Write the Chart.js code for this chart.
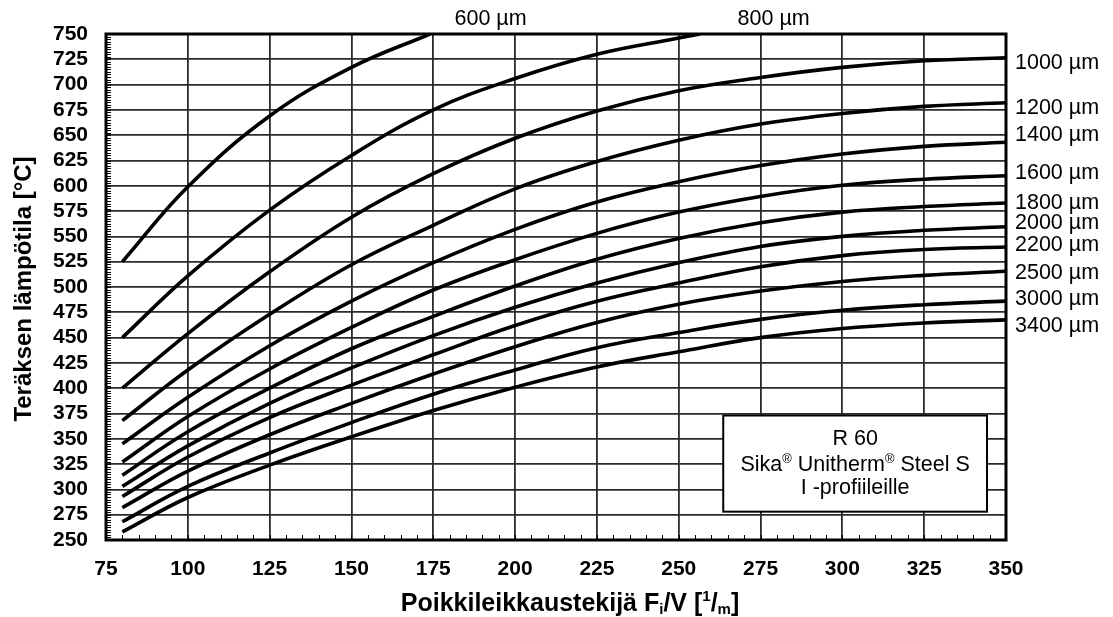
<!DOCTYPE html>
<html><head><meta charset="utf-8">
<script src="https://cdn.jsdelivr.net/npm/chart.js@4/dist/chart.umd.min.js"></script>
<style>html,body{margin:0;padding:0;background:#fff}canvas{display:block}</style>
</head><body>
<canvas id="c" width="1113" height="617"></canvas>
<script>
// ---------- data ----------
const xTickVals = [75,100,125,150,175,200,225,250,275,300,325,350];
const yTickVals = [250,275,300,325,350,375,400,425,450,475,500,525,550,575,600,625,650,675,700,725,750];
const fv = [80,100,125,150,175,200,225,250,275,300,325,350];
const x600 = [80,100,125,150,174];
const t600 = [525,599,669,717,750];
const x800 = [80,100,125,150,175,200,225,250,256.5];
const t800 = [450,511,576,630,675,706,730,746,750];
const t1000 = [400,454,515,569,612,647,674,694,707,717,723.5,726.5];
const t1200 = [368,418,473,522,561,597,624,645,661,671.5,678.5,682];
const t1400 = [345,391,442,486,524,557,584,604,620,631.5,639,643];
const t1600 = [327,372,419,460,497,527,553,574,589.5,600.5,606.5,610];
const t1800 = [314,357,400,439,471,501,527.5,548,563.5,574,579.5,583];
const t2000 = [303,343,385,420,452,480,504,524,540,550,556,559.5];
const t2200 = [293,332,371,403,433,462,486,504,520,531,537,539.5];
const t2500 = [282,318,354,385,414,441,465,483,496,505.5,511.5,515.5];
const t3000 = [268,303,336,366,394,418,440,455,468,477,482.5,486];
const t3400 = [258,292,324,352,378,401,421,436,450,459,464.5,467.5];
const seriesX = [x600,x800,fv,fv,fv,fv,fv,fv,fv,fv,fv,fv];
const seriesT = [t600,t800,t1000,t1200,t1400,t1600,t1800,t2000,t2200,t2500,t3000,t3400];
const thickness = ['600 µm','800 µm','1000 µm','1200 µm','1400 µm','1600 µm','1800 µm','2000 µm','2200 µm','2500 µm','3000 µm','3400 µm'];
// label anchors (in axis units)
const topLabelX = [192.5, 279];
const rightLabelY = [721, 676.5, 650.5, 612.5, 582.5, 563.5, 541.5, 514, 488, 461];
const boxLines = ['R 60', 'Sika® Unitherm® Steel S', 'I -profiileille'];
const boxRange = {x0: 263.6, x1: 344.2, y0: 278, y1: 373};
const yTitle = 'Teräksen lämpötila [°C]';

const FONT = "'Liberation Sans', Arial, Helvetica, sans-serif";

const datasets = seriesT.map((ys, i) => ({
  label: thickness[i],
  data: ys.map((y, j) => ({x: seriesX[i][j], y})),
  borderColor: '#000',
  borderWidth: 3.6,
  pointRadius: 0,
  fill: false,
  tension: 0.4,
  borderCapStyle: 'butt',
  borderJoinStyle: 'round'
}));

function drawRich(ctx, parts, x, y, size, weight, align) {
  const f = (s) => `${weight} ${s}px ${FONT}`;
  let w = 0;
  parts.forEach(p => {
    const s = p.s === 'n' ? size : size * 0.6;
    ctx.font = f(s);
    p.w = ctx.measureText(p.t).width;
    w += p.w;
  });
  let cx = align === 'center' ? x - w / 2 : x;
  ctx.textBaseline = 'middle';
  ctx.textAlign = 'left';
  parts.forEach(p => {
    const s = p.s === 'n' ? size : size * 0.6;
    ctx.font = f(s);
    let dy = 0;
    if (p.s === 'sup') dy = -size * 0.3;
    if (p.s === 'sub') dy = size * 0.25;
    ctx.fillText(p.t, cx, y + dy);
    cx += p.w;
  });
}

const decor = {
  id: 'decor',
  beforeDatasetsDraw(chart) {
    const {ctx, chartArea: a, scales: {x, y}} = chart;
    ctx.save();
    ctx.strokeStyle = '#000';
    ctx.lineWidth = 1;
    for (let v = 250; v <= 750; v += 2.5) {
      const py = Math.round(y.getPixelForValue(v)) + 0.5;
      ctx.beginPath(); ctx.moveTo(a.left, py); ctx.lineTo(a.left + 5, py); ctx.stroke();
    }
    for (let v = 75; v <= 350; v += 5) {
      const px = Math.round(x.getPixelForValue(v)) + 0.5;
      ctx.beginPath(); ctx.moveTo(px, a.bottom); ctx.lineTo(px, a.bottom - 5); ctx.stroke();
    }
    ctx.restore();
  },
  afterDatasetsDraw(chart) {
    const {ctx, chartArea: a, scales: {x, y}} = chart;
    ctx.save();
    ctx.strokeStyle = '#000';
    ctx.lineWidth = 3;
    ctx.strokeRect(a.left, a.top, a.right - a.left, a.bottom - a.top);
    const bx0 = x.getPixelForValue(boxRange.x0), bx1 = x.getPixelForValue(boxRange.x1);
    const by0 = y.getPixelForValue(boxRange.y1), by1 = y.getPixelForValue(boxRange.y0);
    ctx.fillStyle = '#fff';
    ctx.fillRect(bx0, by0, bx1 - bx0, by1 - by0);
    ctx.lineWidth = 2;
    ctx.strokeRect(bx0, by0, bx1 - bx0, by1 - by0);
    ctx.fillStyle = '#000';
    const bcx = (bx0 + bx1) / 2;
    drawRich(ctx, [{t: boxLines[0], s: 'n'}], bcx, by0 + 24, 21.5, 'normal', 'center');
    const l2 = boxLines[1].split('®');
    drawRich(ctx, [{t: l2[0], s: 'n'}, {t: '®', s: 'sup'}, {t: l2[1], s: 'n'}, {t: '®', s: 'sup'}, {t: l2[2], s: 'n'}], bcx, by0 + 50, 21.5, 'normal', 'center');
    drawRich(ctx, [{t: boxLines[2], s: 'n'}], bcx, by0 + 73, 21.5, 'normal', 'center');
    ctx.font = `normal 21.5px ${FONT}`;
    ctx.textAlign = 'center';
    ctx.textBaseline = 'middle';
    topLabelX.forEach((v, i) => ctx.fillText(thickness[i], x.getPixelForValue(v), a.top - 15));
    ctx.textAlign = 'left';
    rightLabelY.forEach((v, i) => ctx.fillText(thickness[i + 2], a.right + 9, y.getPixelForValue(v)));
    ctx.save();
    ctx.translate(24, 289);
    ctx.rotate(-Math.PI / 2);
    ctx.font = `bold 24px ${FONT}`;
    ctx.textAlign = 'center';
    ctx.textBaseline = 'middle';
    ctx.fillText(yTitle, 0, 0);
    ctx.restore();
    drawRich(ctx, [
      {t: 'Poikkileikkaustekijä F', s: 'n'}, {t: 'i', s: 'sub'}, {t: '/V [', s: 'n'},
      {t: '1', s: 'sup'}, {t: '/', s: 'n'}, {t: 'm', s: 'sub'}, {t: ']', s: 'n'}
    ], 570, 604, 25, 'bold', 'center');
    ctx.restore();
  }
};

new Chart(document.getElementById('c'), {
  type: 'line',
  data: {datasets},
  options: {
    responsive: false,
    animation: false,
    events: [],
    layout: {padding: {top: 34, right: 107, left: 0, bottom: 0}},
    plugins: {legend: {display: false}, tooltip: {enabled: false}},
    scales: {
      x: {
        type: 'linear', min: 75, max: 350,
        afterBuildTicks: (s) => { s.ticks = xTickVals.map(v => ({value: v})); },
        afterFit: (s) => { s.height = 77; },
        grid: {color: '#2b2b2b', lineWidth: 1.8, drawTicks: false},
        border: {display: false},
        ticks: {color: '#000', font: {family: FONT, size: 21, weight: 'bold'}, padding: 17, maxRotation: 0, autoSkip: false}
      },
      y: {
        type: 'linear', min: 250, max: 750,
        afterBuildTicks: (s) => { s.ticks = yTickVals.map(v => ({value: v})); },
        afterFit: (s) => { s.width = 106; },
        grid: {color: '#2b2b2b', lineWidth: 1.8, drawTicks: false},
        border: {display: false},
        ticks: {color: '#000', font: {family: FONT, size: 21, weight: 'bold'}, padding: 18, autoSkip: false}
      }
    }
  },
  plugins: [decor]
});
</script>
</body></html>
